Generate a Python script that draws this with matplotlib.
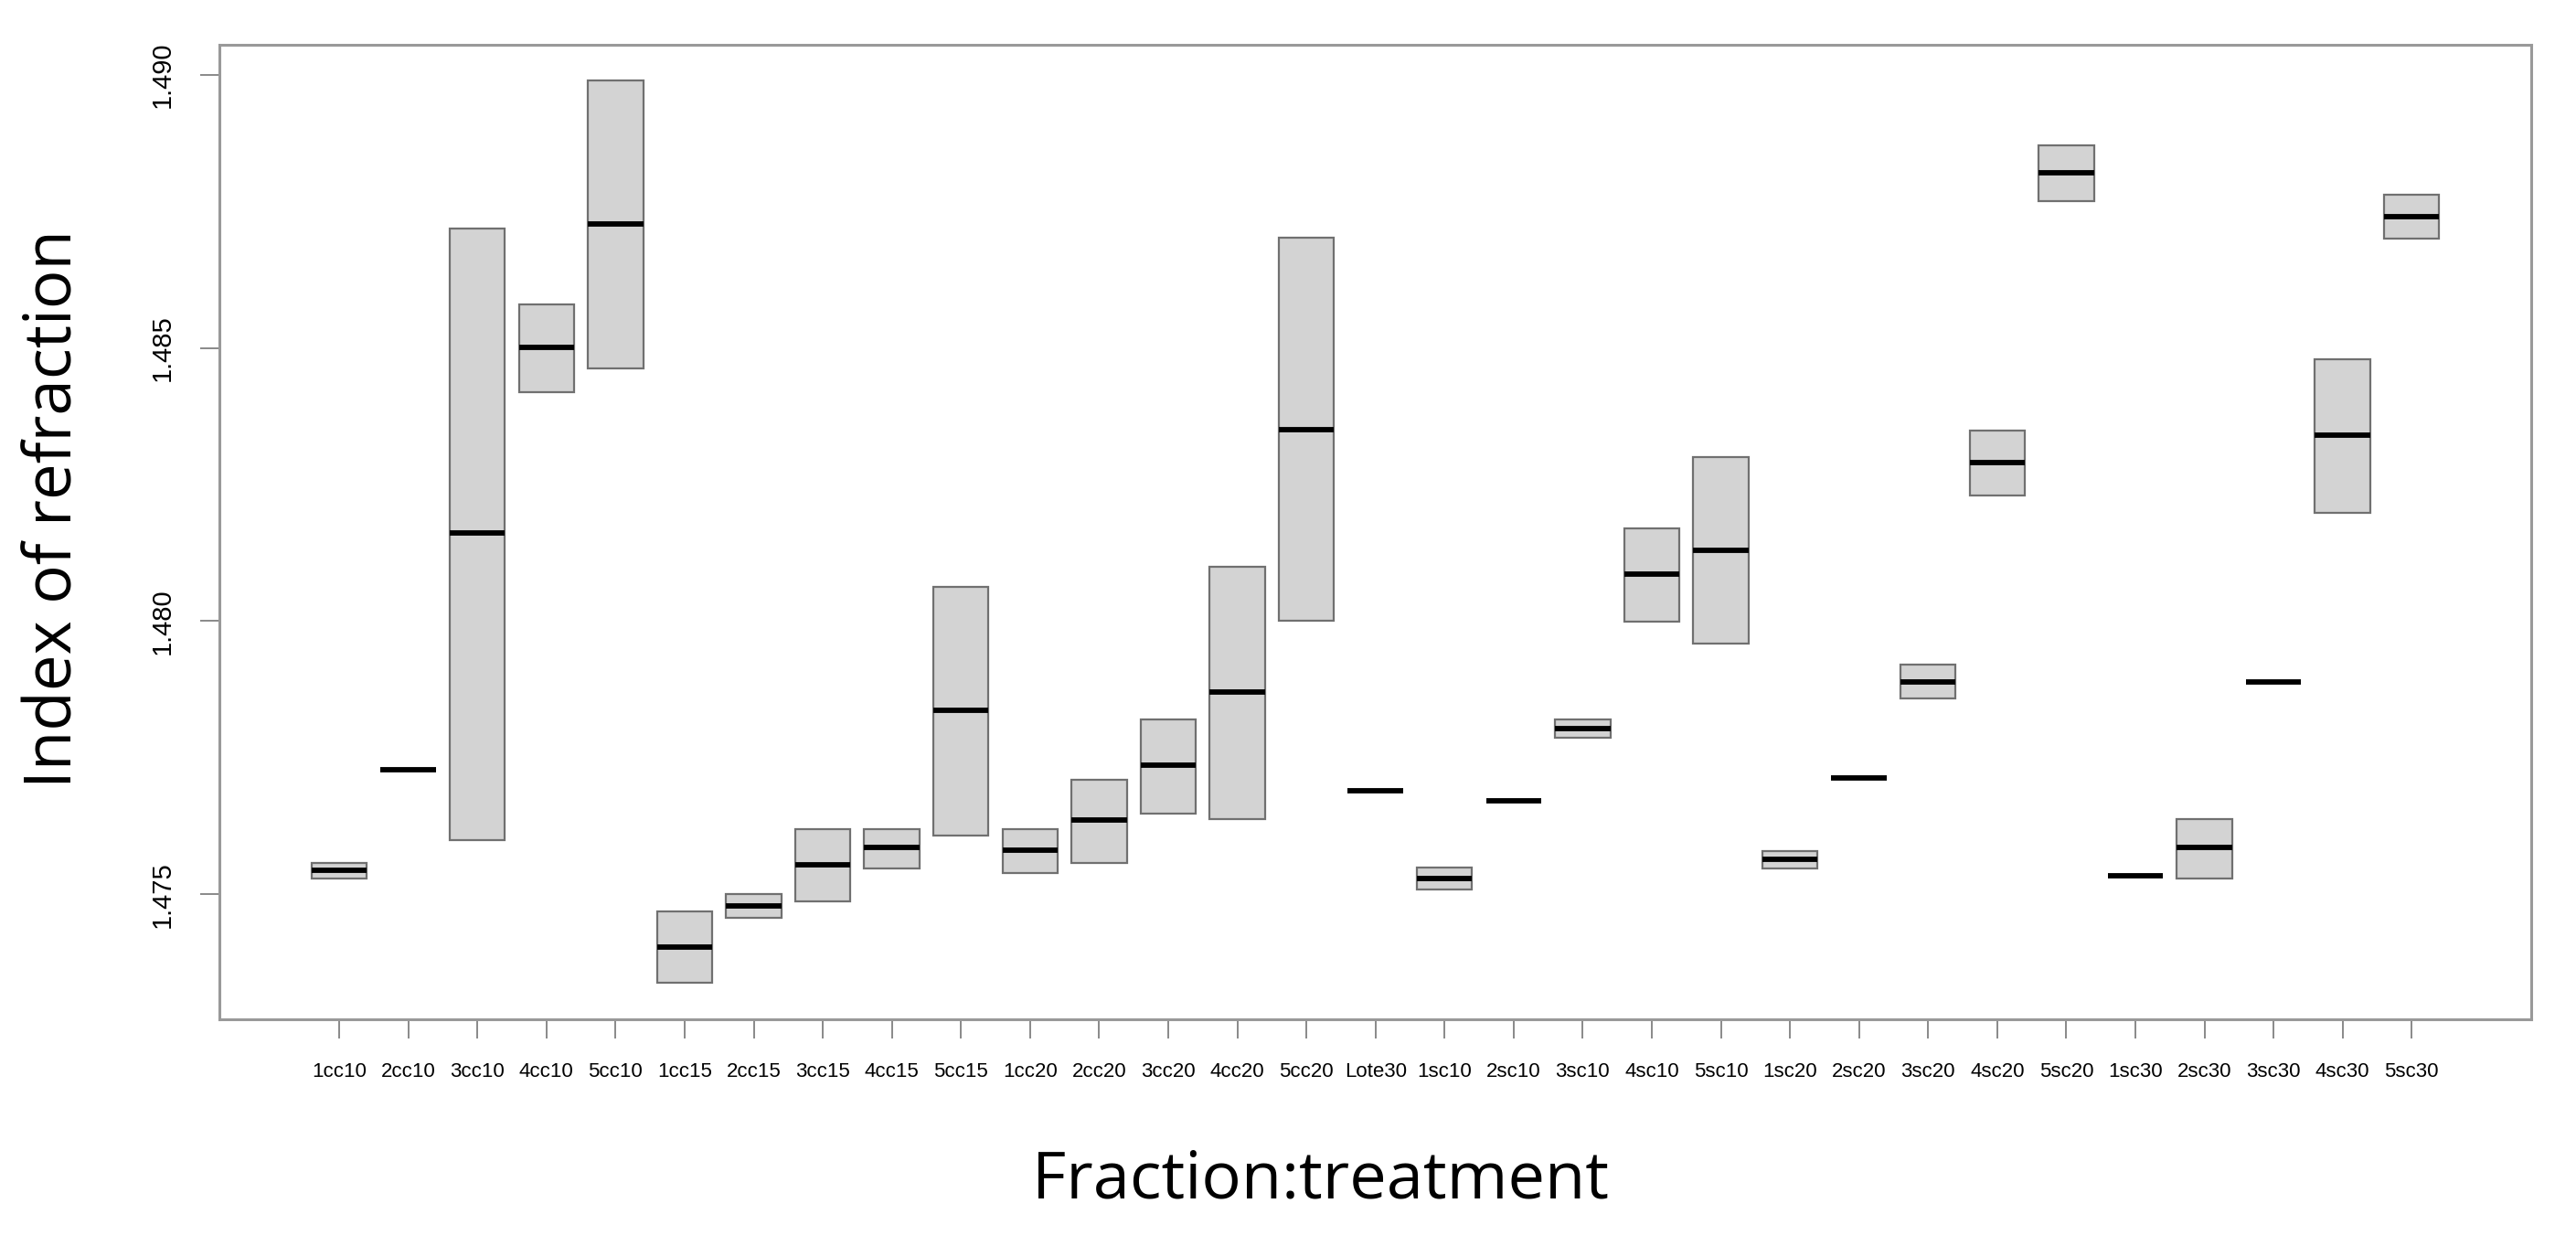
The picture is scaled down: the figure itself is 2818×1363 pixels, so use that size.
import matplotlib
matplotlib.use("Agg")
import matplotlib.pyplot as plt

groups = ["1cc10", "2cc10", "3cc10", "4cc10", "5cc10",
          "1cc15", "2cc15", "3cc15", "4cc15", "5cc15",
          "1cc20", "2cc20", "3cc20", "4cc20", "5cc20",
          "Lote30",
          "1sc10", "2sc10", "3sc10", "4sc10", "5sc10",
          "1sc20", "2sc20", "3sc20", "4sc20", "5sc20",
          "1sc30", "2sc30", "3sc30", "4sc30", "5sc30"]

q1 = [1.47528, 1.47728, 1.47599, 1.48419, 1.48462,
      1.47338, 1.47457, 1.47487, 1.47547, 1.47608,
      1.47538, 1.47558, 1.47647, 1.47637, 1.48000,
      1.47689,
      1.47508, 1.47671, 1.47787, 1.47999, 1.47958,
      1.47547, 1.47712, 1.47858, 1.48230, 1.48768,
      1.47533, 1.47528, 1.47889, 1.48198, 1.48701]

med = [1.47543, 1.47728, 1.48161, 1.48501, 1.48727,
       1.47403, 1.47478, 1.47554, 1.47585, 1.47836,
       1.47580, 1.47635, 1.47737, 1.47870, 1.48351,
       1.47689,
       1.47528, 1.47671, 1.47804, 1.48086, 1.48130,
       1.47564, 1.47712, 1.47889, 1.48290, 1.48821,
       1.47533, 1.47585, 1.47889, 1.48340, 1.48741]

q3 = [1.47558, 1.47728, 1.48719, 1.48579, 1.48990,
      1.47468, 1.47500, 1.47619, 1.47619, 1.48062,
      1.47619, 1.47709, 1.47820, 1.48100, 1.48702,
      1.47689,
      1.47549, 1.47671, 1.47820, 1.48170, 1.48301,
      1.47579, 1.47712, 1.47920, 1.48349, 1.48871,
      1.47533, 1.47637, 1.47889, 1.48479, 1.48780]

yticks = [1.475, 1.480, 1.485, 1.490]

stats = []
for name, a, m, b in zip(groups, q1, med, q3):
    stats.append({"label": name, "q1": a, "med": m, "q3": b,
                  "whislo": a, "whishi": b, "fliers": []})

W, H = 2818, 1363
fig = plt.figure(figsize=(W / 100, H / 100), dpi=100)
ax = fig.add_axes([240 / W, 1 - 1115 / H, (2769 - 240) / W, (1115 - 49) / H])

frame = "#999999"
ax.bxp(stats, positions=range(1, len(groups) + 1), widths=0.8,
       patch_artist=True, showcaps=False,
       boxprops=dict(facecolor="#d3d3d3", edgecolor="#707070", linewidth=1.6),
       medianprops=dict(color="black", linewidth=4.2, solid_capstyle="butt"),
       whiskerprops=dict(linewidth=0))

ax.set_xlim(-0.735, 32.73)
ax.set_ylim(1.47271, 1.49055)
ax.set_xticks(range(1, len(groups) + 1))
ax.set_xticklabels(groups, fontsize=16, family="Liberation Sans")
ax.set_yticks(yticks)
ax.set_yticklabels(["%.3f" % v for v in yticks], fontsize=21,
                   family="Liberation Sans", rotation=90, va="center")

for s in ax.spines.values():
    s.set_color(frame)
    s.set_linewidth(2.2)
ax.tick_params(axis="both", length=15, width=1.3, color="#808080")
ax.tick_params(axis="x", pad=19)
ax.tick_params(axis="y", pad=20)

fig.text(1445 / W, 1 - 1292 / H, "Fraction:treatment", fontsize=52,
         family="Open Sans", ha="center", va="center")
fig.text(60 / W, 1 - 557 / H, "Index of refraction", fontsize=51,
         family="Open Sans", ha="center", va="center", rotation=90)

fig.savefig("out.png", dpi=100)
